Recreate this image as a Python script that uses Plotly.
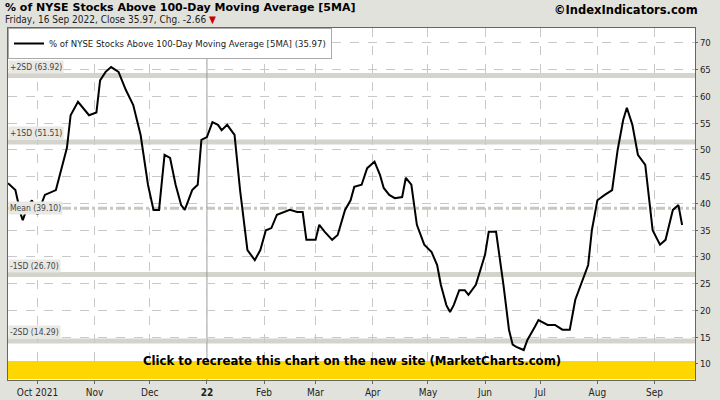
import plotly.graph_objects as go

dates = ["2021-09-15","2021-09-19","2021-09-22","2021-09-23","2021-09-26","2021-09-28","2021-10-01",
"2021-10-05","2021-10-11","2021-10-15","2021-10-17","2021-10-19","2021-10-23","2021-10-29","2021-11-02",
"2021-11-04","2021-11-07","2021-11-10","2021-11-14","2021-11-18","2021-11-22","2021-11-26","2021-11-30",
"2021-12-03","2021-12-06","2021-12-09","2021-12-12","2021-12-15","2021-12-18","2021-12-20","2021-12-24",
"2021-12-27","2021-12-29","2022-01-01","2022-01-04","2022-01-07","2022-01-09","2022-01-12","2022-01-16",
"2022-01-19","2022-01-23","2022-01-27","2022-01-30","2022-02-02","2022-02-05","2022-02-08","2022-02-12",
"2022-02-15","2022-02-19","2022-02-22","2022-02-24","2022-03-01","2022-03-03","2022-03-06","2022-03-10",
"2022-03-13","2022-03-17","2022-03-20","2022-03-22","2022-03-26","2022-03-29","2022-04-02","2022-04-05",
"2022-04-07","2022-04-10","2022-04-13","2022-04-17","2022-04-19","2022-04-22","2022-04-25","2022-04-29",
"2022-05-03","2022-05-06","2022-05-08","2022-05-11","2022-05-13","2022-05-15","2022-05-18","2022-05-21",
"2022-05-23","2022-05-27","2022-06-01","2022-06-03","2022-06-07","2022-06-11","2022-06-14","2022-06-16",
"2022-06-18","2022-06-22","2022-06-24","2022-06-28","2022-06-30","2022-07-05","2022-07-09","2022-07-13",
"2022-07-17","2022-07-20","2022-07-22","2022-07-27","2022-07-29","2022-08-01","2022-08-05","2022-08-09",
"2022-08-12","2022-08-15","2022-08-17","2022-08-20","2022-08-23","2022-08-27","2022-08-31","2022-09-04",
"2022-09-07","2022-09-11","2022-09-14","2022-09-16"]
values = [43.8,42.5,37.9,36.9,39.7,40.6,37.9,
41.6,42.5,48.1,50.4,56.5,59.0,56.5,57.0,
63.0,64.6,65.5,64.6,61.2,58.4,52.8,43.5,
38.8,38.8,49.1,48.5,43.5,39.7,38.8,42.5,
43.5,51.9,52.4,55.2,54.7,53.7,54.7,52.8,
42.5,31.3,29.4,31.3,35.0,35.4,37.9,38.4,
38.8,38.4,38.4,33.2,33.2,36.0,34.7,33.2,
34.1,38.8,40.6,43.1,43.5,46.6,47.8,45.3,
42.9,41.6,41.0,41.2,44.8,43.5,36.0,32.3,
30.9,28.5,24.8,21.0,19.7,21.0,23.8,23.8,
22.9,24.8,30.4,34.7,34.7,24.8,16.4,13.6,
13.2,12.6,14.5,16.9,18.2,17.3,17.3,16.4,
16.4,22.0,23.8,28.5,35.0,40.6,41.6,42.5,
50.0,55.6,57.9,54.7,49.1,47.2,35.0,32.3,
33.2,38.8,39.7,35.97]

band_levels = [63.92, 51.51, 26.70, 14.29]
band_labels = ["+2SD (63.92)", "+1SD (51.51)", "-1SD (26.70)", "-2SD (14.29)"]
mean_level = 39.10
tick_dates = ["2021-10-01","2021-11-01","2021-12-01","2022-01-01","2022-02-01","2022-03-01",
              "2022-04-01","2022-05-01","2022-06-01","2022-07-01","2022-08-01","2022-09-01"]
tick_text = ["Oct 2021","Nov","Dec","<b>22</b>","Feb","Mar","Apr","May","Jun","Jul","Aug","Sep"]

fig = go.Figure()
fig.add_trace(go.Scatter(x=dates, y=values, mode="lines", line=dict(color="black", width=2),
                         name="% of NYSE Stocks Above 100-Day Moving Average [5MA] (35.97)"))

for lvl, lab in zip(band_levels, band_labels):
    fig.add_hline(y=lvl, line=dict(color="#d4d4cc", width=5), layer="below")
    fig.add_annotation(x=0, xref="paper", y=lvl, yshift=9, text=lab, showarrow=False,
                       xanchor="left", font=dict(size=8.5, color="#444"), bgcolor="#e8e8e4")
fig.add_hline(y=mean_level, line=dict(color="#c8c8c0", width=3, dash="dashdot"), layer="below")
fig.add_annotation(x=0, xref="paper", y=mean_level, text="Mean (39.10)", showarrow=False,
                   xanchor="left", font=dict(size=8.5, color="#444"), bgcolor="#e8e8e4")
fig.add_vline(x="2022-01-01", line=dict(color="#999", width=1), layer="below")

# banner
fig.add_shape(type="rect", xref="paper", yref="paper", x0=0, x1=1, y0=0.003, y1=0.054,
              fillcolor="#ffd700", line_width=0)
fig.add_annotation(x=0.5, y=0.028, xref="paper", yref="paper", showarrow=False,
                   text="<b>Click to recreate this chart on the new site (MarketCharts.com)</b>",
                   font=dict(size=13, color="black", family="DejaVu Sans Condensed"))

fig.add_annotation(x=0, y=1.0, xref="paper", yref="paper", yanchor="top", xanchor="left",
                   showarrow=False, text="<b>% of NYSE Stocks Above 100-Day Moving Average [5MA]</b>",
                   font=dict(size=11, color="black", family="DejaVu Sans"), xshift=-5, yshift=29)
fig.add_annotation(x=0, y=1.0, xref="paper", yref="paper", yanchor="top", xanchor="left",
                   showarrow=False, text="Friday, 16 Sep 2022, Close 35.97, Chg. -2.66 <span style='color:#cc0000'>▼</span>",
                   font=dict(size=10, color="#222", family="DejaVu Sans Condensed"), xshift=-5, yshift=16)
fig.add_annotation(x=1.0, y=1.0, xref="paper", yref="paper", yanchor="top", xanchor="right",
                   showarrow=False, text="<b>©IndexIndicators.com</b>",
                   font=dict(size=11.5, color="black", family="DejaVu Sans"), yshift=27, xshift=5)

fig.update_layout(
    width=720, height=400, margin=dict(l=8, r=25, t=28, b=20),
    paper_bgcolor="#e2e2dc", plot_bgcolor="white",
    font=dict(family="DejaVu Sans Condensed", size=10, color="#222"),
    showlegend=True,
    legend=dict(x=0, y=1, xanchor="left", yanchor="top", bgcolor="white",
                bordercolor="#aaa", borderwidth=1, font=dict(size=9.5),
                itemwidth=30, tracegroupgap=0),
    xaxis=dict(range=["2021-09-15","2022-09-23"], tickvals=tick_dates, ticktext=tick_text,
               showgrid=True, gridcolor="#c8c8c8", griddash="dash", ticks="outside",
               ticklen=3, tickcolor="#666", showline=True, linecolor="#666", mirror=True,
               automargin=False),
    yaxis=dict(range=[7, 72.8], side="right", dtick=5, showgrid=True, gridcolor="#c8c8c8",
               griddash="dash", ticks="outside", ticklen=2, tickcolor="#666",
               showline=True, linecolor="#666", mirror=True, tickfont=dict(size=9.5),
               automargin=False),
)

fig.write_html("out.html", config={"displayModeBar": False},
               post_script="document.body.style.margin='0';")
